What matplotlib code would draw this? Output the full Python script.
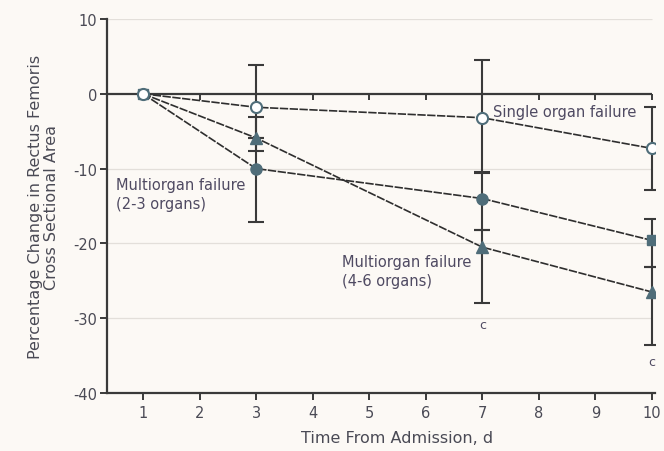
import numpy as np
import matplotlib
matplotlib.use("Agg")
import matplotlib.pyplot as plt

plt.rcParams['font.family'] = ['Liberation Sans Narrow', 'DejaVu Sans']
plt.rcParams['axes.unicode_minus'] = False

days = [1, 3, 7, 10]
single = [0.0, -1.8, -3.2, -7.3]
single_hi = [0.0, 5.7, 7.7, 5.5]
single_lo = [0.0, 5.9, 7.4, 5.5]
multi23 = [0.0, -10.0, -14.0, -19.6]
multi23_hi = [0.0, 6.9, 3.5, 2.9]
multi23_lo = [0.0, 7.1, 4.2, 3.6]
multi46 = [0.0, -5.9, -20.5, -26.5]
multi46_hi = [0.0, 0.0, 2.3, 3.3]
multi46_lo = [0.0, 0.0, 7.5, 7.1]
xticks = list(range(1, 11))
yticks = [10, 0, -10, -20, -30, -40]

bg = '#fcf9f5'
teal = '#4f6d79'
dark = '#3a3a3a'
txt = '#4f4a62'
lab = '#4a4a55'

fig = plt.figure(figsize=(6.64, 4.52), dpi=100, facecolor=bg)
ax = fig.add_axes([107/664, 58/452, (654.8-107)/664, 374/452])
ax.set_facecolor(bg)
x0, x1 = 0.3635, 10.05
ax.set_xlim(x0, x1)
ax.set_ylim(-40, 10)

# grid lines
for g in [10, -10, -20, -30]:
    ax.hlines(g, x0, 10, color='#e3dfda', lw=0.9, zorder=0)
# zero line with ticks
ax.hlines(0, x0, 10, color=dark, lw=1.6, zorder=1)
ax.vlines(xticks, -0.85, 0, color=dark, lw=1.4, zorder=1)

# error bars
for y, lo, hi in [(single, single_lo, single_hi), (multi23, multi23_lo, multi23_hi), (multi46, multi46_lo, multi46_hi)]:
    ax.errorbar(days[1:], y[1:], yerr=[lo[1:], hi[1:]], fmt='none', ecolor=dark,
                elinewidth=1.5, capsize=6, capthick=1.5, zorder=2)

# lines
for y in [single, multi23, multi46]:
    ax.plot(days, y, color='#2e2e2e', lw=1.2, ls=(0, (5, 0.9)), zorder=3)

# markers
ax.plot(days[1:3], multi46[1:3], ls='none', marker='^', ms=8, color=teal, zorder=4)
ax.plot(days[3:], multi46[3:], ls='none', marker='^', ms=8, color=teal, zorder=4)
ax.plot(days[1:3], multi23[1:3], ls='none', marker='o', ms=8, color=teal, zorder=4)
ax.plot([days[0], days[3]], [multi23[0], multi23[3]], ls='none', marker='s', ms=7.5, color=teal, zorder=4)
ax.plot(days, single, ls='none', marker='o', ms=8, mfc='white', mec=teal, mew=1.5, zorder=5)

# annotations
ax.text(7.19, -2.3, 'Single organ failure', color=txt, fontsize=10.5, va='center', ha='left', zorder=6)
ax.text(0.52, -13.4, 'Multiorgan failure\n(2-3 organs)', color=txt, fontsize=10.5, va='center', ha='left', linespacing=1.35)
ax.text(4.52, -23.7, 'Multiorgan failure\n(4-6 organs)', color=txt, fontsize=10.5, va='center', ha='left', linespacing=1.35)
ax.text(7, -30.8, 'c', color=txt, fontsize=9, ha='center', va='center')
ax.text(10, -35.8, 'c', color=txt, fontsize=9, ha='center', va='center')

# spines
for s in ['top', 'right']:
    ax.spines[s].set_visible(False)
for s in ['left', 'bottom']:
    ax.spines[s].set_color(dark)
    ax.spines[s].set_linewidth(1.6)
ax.set_xticks(xticks)
ax.set_yticks(yticks)
ax.tick_params(axis='both', colors=dark, width=1.4, length=5, labelsize=10.5, labelcolor=lab)
ax.tick_params(axis='x', pad=4)
ax.tick_params(axis='y', pad=2)

ax.set_ylabel('Percentage Change in Rectus Femoris\nCross Sectional Area', fontsize=11.5, color=lab, linespacing=1.05)
ax.yaxis.set_label_coords(-0.088, 0.5)
ax.set_xlabel('Time From Admission, d', fontsize=11.5, color=lab)
ax.xaxis.set_label_coords((5.5 - x0) / (x1 - x0), -0.1)

fig.savefig('out.png', dpi=100, facecolor=bg)
